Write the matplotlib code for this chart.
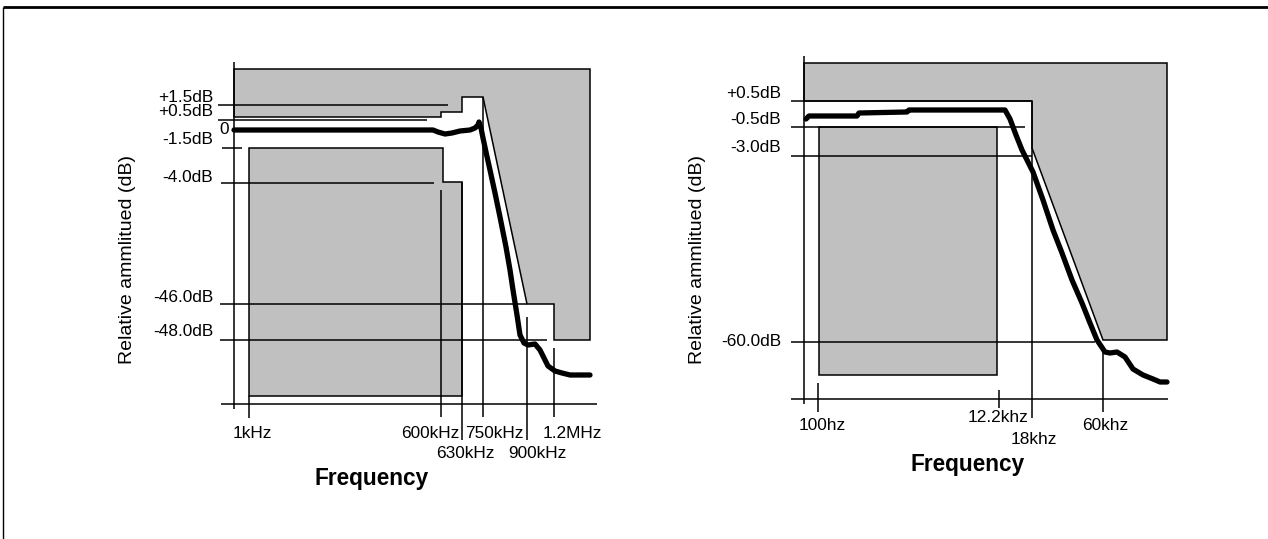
import matplotlib
matplotlib.use("Agg")
import matplotlib.pyplot as plt

plt.rcParams['font.family'] = ['Liberation Sans', 'DejaVu Sans']

# Schematic mask diagrams, drawn in a pixel-like coordinate system (y grows downward)

# ---- left panel: 600 kHz filter mask ----
L_DB_LABELS = ["+1.5dB", "+0.5dB", "0", "-1.5dB", "-4.0dB", "-46.0dB", "-48.0dB"]
L_DB_LINE_Y = [105, 120, 130, 148, 183, 304, 340]
L_FREQ_LABELS = ["1kHz", "600kHz", "630kHz", "750kHz", "900kHz", "1.2MHz"]
L_FREQ_X = [249, 441, 462, 483, 527, 554]

# upper (forbidden) mask outline and lower mask outline
L_UPPER_X = [234, 590, 590, 554, 554, 527, 483, 462, 462, 441, 441, 234]
L_UPPER_Y = [69, 69, 340, 340, 304, 304, 97, 97, 112, 112, 117, 117]
L_LOWER_X = [249, 443, 443, 462, 462, 249]
L_LOWER_Y = [148, 148, 182, 182, 396, 396]

# measured response trace
L_TRACE_X = [234, 300, 380, 433, 438, 445, 452, 460, 470, 475, 478, 479, 481, 483,
             486, 490, 495, 500, 506, 510, 513, 517, 520, 524, 528, 535, 540, 544,
             548, 555, 562, 570, 590]
L_TRACE_Y = [130, 130, 130, 130, 132, 134, 133, 131, 130, 128, 125, 122, 128, 138,
             152, 170, 193, 217, 247, 270, 290, 315, 335, 343, 345, 344, 350, 358,
             366, 371, 373, 375, 375]

# ---- right panel: 12.2 kHz filter mask ----
R_DB_LABELS = ["+0.5dB", "-0.5dB", "-3.0dB", "-60.0dB"]
R_DB_LINE_Y = [101, 127, 156, 342]
R_FREQ_LABELS = ["100hz", "12.2khz", "18khz", "60khz"]
R_FREQ_X = [818, 999, 1032, 1103]

R_UPPER_X = [804, 1167, 1167, 1103, 1032, 1032, 804]
R_UPPER_Y = [63, 63, 340, 340, 148, 101, 101]
R_LOWER_X = [819, 997, 997, 819]
R_LOWER_Y = [127, 127, 375, 375]

R_TRACE_X = [806, 809, 857, 859, 907, 909, 1005, 1010, 1016, 1022, 1033, 1043, 1053,
             1062, 1072, 1082, 1090, 1097, 1105, 1110, 1117, 1125, 1133, 1143, 1153,
             1160, 1167]
R_TRACE_Y = [119, 116, 116, 113, 112, 110, 110, 119, 135, 150, 172, 200, 230,
             253, 280, 303, 323, 340, 352, 353, 352, 357, 369, 375, 379,
             382, 382]

GRAY = '#c0c0c0'
LW = 1.1
FS = 12.4


def hline(ax, y, x0, x1, lw=LW):
    ax.plot([x0, x1], [y, y], color='k', lw=lw, solid_capstyle='butt')


def vline(ax, x, y0, y1, lw=LW):
    ax.plot([x, x], [y0, y1], color='k', lw=lw, solid_capstyle='butt')


fig = plt.figure(figsize=(12.68, 5.39), dpi=100)
ax = fig.add_axes([0, 0, 1, 1])
ax.set_xlim(0, 1268)
ax.set_ylim(539, 0)
ax.axis('off')

# outer frame
hline(ax, 7, 3, 1268, lw=2.0)
vline(ax, 3, 7, 539, lw=1.0)

# ================= left panel =================
ax.fill(L_UPPER_X, L_UPPER_Y, facecolor=GRAY, edgecolor='k', lw=LW)
ax.fill(L_LOWER_X, L_LOWER_Y, facecolor=GRAY, edgecolor='k', lw=LW)

# axes
vline(ax, 234, 62, 409)
hline(ax, 404, 221, 597)

# dB reference lines
hline(ax, L_DB_LINE_Y[0], 218, 448)
hline(ax, L_DB_LINE_Y[1], 218, 427)
hline(ax, L_DB_LINE_Y[3], 222, 242)
hline(ax, L_DB_LINE_Y[4], 221, 434)
hline(ax, L_DB_LINE_Y[5], 220, L_FREQ_X[4])
hline(ax, L_DB_LINE_Y[6], 220, 547)

# frequency markers
vline(ax, L_FREQ_X[0], 396, 418)
vline(ax, L_FREQ_X[1], 190, 417)
vline(ax, L_FREQ_X[2], 182, 440)
vline(ax, L_FREQ_X[3], 97, 417)
vline(ax, L_FREQ_X[4], 317, 440)
vline(ax, L_FREQ_X[5], 348, 417)

ax.plot(L_TRACE_X, L_TRACE_Y, color='k', lw=3.8,
        solid_joinstyle='round', solid_capstyle='round')

# y tick labels
l_label_y = [98, 112, 130, 140, 178, 297, 332]
for lab, ly in zip(L_DB_LABELS, l_label_y):
    xr = 229 if lab == "0" else 213
    ax.text(xr, ly, lab, ha='right', va='center', fontsize=FS)

# x tick labels
l_tick_pos = [(252, 433), (430, 433), (465, 453), (494, 433), (537, 453), (572, 433)]
for lab, (tx, ty) in zip(L_FREQ_LABELS, l_tick_pos):
    ax.text(tx, ty, lab, ha='center', va='center', fontsize=FS)

ax.text(372, 478, "Frequency", ha='center', va='center', fontsize=16.3, fontweight='bold')
ax.text(127, 260, "Relative ammlitued (dB)", ha='center', va='center',
        rotation=90, fontsize=14)

# ================= right panel =================
ax.fill(R_UPPER_X, R_UPPER_Y, facecolor=GRAY, edgecolor='k', lw=LW)
ax.fill(R_LOWER_X, R_LOWER_Y, facecolor=GRAY, edgecolor='k', lw=LW)

vline(ax, 804, 56, 404)
hline(ax, 399, 791, 1168)

hline(ax, R_DB_LINE_Y[0], 791, 1032)
hline(ax, R_DB_LINE_Y[1], 791, 1025)
hline(ax, R_DB_LINE_Y[2], 791, 1032)
hline(ax, R_DB_LINE_Y[3], 791, 1095)

vline(ax, R_FREQ_X[0], 383, 412)
vline(ax, R_FREQ_X[1], 390, 408)
vline(ax, R_FREQ_X[2], 101, 418)
vline(ax, R_FREQ_X[3], 350, 412)

ax.plot(R_TRACE_X, R_TRACE_Y, color='k', lw=3.8,
        solid_joinstyle='round', solid_capstyle='round')

r_label_y = [93, 119, 147, 341]
for lab, ly in zip(R_DB_LABELS, r_label_y):
    ax.text(781, ly, lab, ha='right', va='center', fontsize=FS)

r_tick_pos = [(822, 426), (998, 418), (1034, 440), (1105, 425)]
for lab, (tx, ty) in zip(R_FREQ_LABELS, r_tick_pos):
    ax.text(tx, ty, lab, ha='center', va='center', fontsize=FS)

ax.text(968, 465, "Frequency", ha='center', va='center', fontsize=16.3, fontweight='bold')
ax.text(697, 260, "Relative ammlitued (dB)", ha='center', va='center',
        rotation=90, fontsize=14)

fig.savefig("out.png", dpi=100)
